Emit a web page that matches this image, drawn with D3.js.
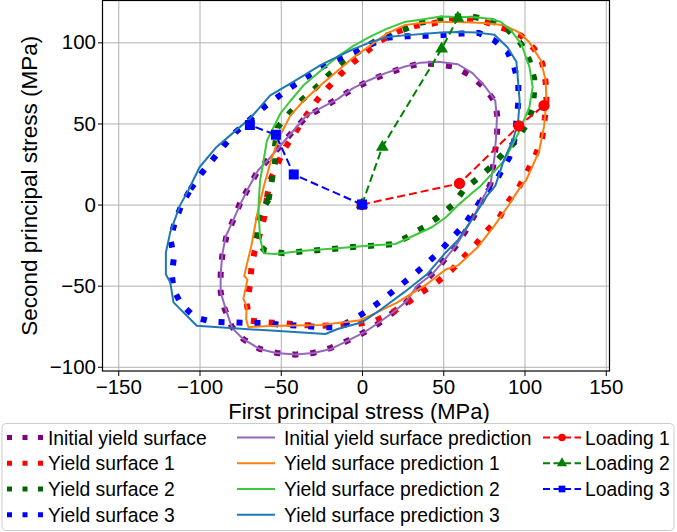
<!DOCTYPE html>
<html><head><meta charset="utf-8">
<script src="https://cdn.jsdelivr.net/npm/d3@7"></script>
<style>
body{margin:0;background:#fff}
svg{display:block}
text{font-family:"Liberation Sans",Arial,sans-serif;fill:#000}
</style>
</head><body>
<svg id="c" width="677" height="532"></svg>
<script>
// ---------------- data ----------------
const xTicks = [-150, -100, -50, 0, 50, 100, 150];
const yTicks = [-100, -50, 0, 50, 100];

const initialSurface = [[-75,1],[-79,-9],[-83.5,-20],[-86,-31.5],[-87,-43],[-87,-54],[-84.5,-64.5],[-80,-75.5],[-73,-83],[-63,-89],[-52.5,-91.5],[-41,-92.5],[-30,-91.5],[-19.5,-88.5],[-9,-84],[1,-79],[10,-73.5],[18.5,-67],[27,-60.5],[34.5,-51.5],[42,-44],[50,-35],[57.5,-26],[64,-16],[69,-7],[74,3],[79,12.5],[81.5,29],[83,41.5],[83.5,53],[82,63],[75.5,72],[67,79.5],[56.5,85],[46.5,86.5],[36,87],[26,84.5],[14.5,80.5],[4,76],[-6,71],[-15.5,65],[-25.5,59],[-34,54.5],[-44,43.5],[-56,29.5],[-64,21],[-70,10],[-75,1]];
const surface1 = [[-58.5,4.5],[-56.5,15],[-52,25],[-47,35.5],[-41,44.5],[-35,54],[-28,64],[-21,72],[-13.5,80],[-5,88],[3,94.5],[11.5,101],[21.5,106.5],[32,110],[43,111.5],[52.5,114],[69,114.5],[79,111.5],[87.5,108.5],[98,104],[106,96],[111,87],[113,75.5],[113.5,64],[112.5,53],[111,41.5],[107,31],[102,21],[97,11.5],[90.5,2.5],[84.5,-8],[77,-16],[70,-24.5],[62.5,-32.5],[55,-40.5],[46,-48],[37,-54],[28,-60.5],[18.5,-66.5],[8.5,-71.5],[-2,-73.5],[-14,-74.5],[-25.5,-74.7],[-36,-74.3],[-47,-73.3],[-58.5,-72.6],[-69,-71.5],[-71,-61],[-69,-50],[-68,-38.5],[-66,-28.5],[-62.5,-17],[-60,-7],[-58.5,4.5]];
const surface2 = [[-57.5,3],[-55.5,15],[-53.5,26],[-53.5,36.5],[-52,47.5],[-45,56],[-37,64.5],[-28.5,72],[-21,79.5],[-12,87],[-4,93],[5,99],[14.5,104],[26,108],[36,112],[48.5,114.5],[59,116],[70,115.5],[80.5,113],[89.5,108],[98,99],[103,89],[106,77.5],[106,70.5],[105,59],[101,49],[95,39.5],[86.5,31],[79,23],[71,16],[63,9.5],[55.5,-0.5],[46.5,-8],[38,-14],[28,-20],[18.5,-24.5],[7.5,-25.3],[-3.5,-26],[-14.5,-27],[-26,-28],[-37,-29],[-48,-30],[-59.5,-28.5],[-65.5,-23],[-64.5,-12],[-63,-5.5],[-57.5,3]];
const surface3 = [[-105.5,9.5],[-99,19],[-92,27.5],[-85.3,36],[-78,44.5],[-70,51.5],[-61,59.5],[-52.3,66],[-43,72.8],[-34,78.6],[-24.6,84.8],[-15,89.5],[-4,94],[6,99],[16.5,103],[27.5,103.7],[38.6,104],[49.5,104.5],[61,105.4],[72,105.8],[81.4,101.2],[89.6,94],[93.7,84.8],[96.2,74.5],[96.2,63],[95.4,55],[94.5,47],[93.7,39.5],[90.6,29],[85.5,20],[81.4,12.8],[75,5.6],[69,-3.7],[62.5,-13],[55,-21],[47.4,-29.4],[39,-37],[31,-44],[22,-51],[13.5,-58],[4,-65],[-5,-70.6],[-14.3,-75.5],[-25.6,-75.7],[-37,-74.7],[-48.3,-74.3],[-59,-73],[-71,-73],[-81,-72.6],[-92.5,-72.2],[-102.8,-69.5],[-111,-61.7],[-116,-52.5],[-117,-43.4],[-115.7,-32],[-118,-21],[-115,-10.5],[-111,0],[-105.5,9.5]];

const initialPrediction = [[-75,0],[-79,-9],[-84,-20],[-86,-31],[-87,-43],[-87,-54],[-84,-64],[-80,-76],[-73,-83],[-63,-89],[-53,-91.5],[-41,-92.5],[-30,-91.5],[-19,-89],[-9,-84],[1,-79],[10,-73],[19,-66.5],[27,-60],[34,-50],[43,-43],[50,-35],[58,-25],[69,-7],[74,3.5],[79,12],[81.5,29],[82.5,41.5],[83,53],[82,64],[76,72.5],[68,81],[59,86.5],[47,88],[36,87.5],[26,85],[14.5,81],[4,76.5],[-6,71.5],[-15,65],[-25.5,59.5],[-34,55],[-44,43.5],[-56.5,29],[-64,21],[-70,10],[-75,0]];
const prediction1 = [[-60.5,11],[-55.5,29],[-50,43.5],[-44,55],[-36,64],[-25.5,73.5],[-15,82.5],[-5,91],[5,98],[15.5,105.5],[26,110.5],[36,112],[48.5,112.5],[59,112.5],[75,112],[87.5,110.5],[96,106.5],[103,100],[110,89],[113,76.5],[113.5,64],[112,48],[109,33],[101,15],[98,11.7],[89.5,-1.5],[81.5,-13],[71,-26.5],[59,-37.5],[51.5,-40],[40,-49],[32,-54],[21.5,-60.5],[5,-68.5],[-2,-71.5],[-25.5,-74.3],[-56.5,-74.8],[-70,-75.5],[-71.3,-70.6],[-71,-63],[-73,-58],[-70.5,-46.3],[-72.5,-44],[-71,-37.5],[-68,-25],[-64.7,-7],[-60.5,11]];
const prediction2 = [[-63.5,2.5],[-62.7,15],[-60.6,27],[-58.5,39.5],[-54.5,47.5],[-50.3,56],[-44,64],[-36,73.5],[-25.5,82.5],[-15.3,91],[-5,98],[5,103.5],[15.5,108.5],[26,112.5],[36,114],[48.5,116],[69,115.5],[79,114.5],[85.5,112.5],[91.5,107.5],[98,99],[103,85],[105,72.5],[103,60],[96,43.5],[87.5,27],[73,11.5],[67,6.5],[59,-0.5],[51.5,-8],[43,-14],[30,-20],[20.5,-24.3],[5,-25.3],[-15,-27],[-36,-28.4],[-53.5,-30.5],[-60.5,-30],[-62.7,-21],[-63.7,-4],[-63.5,2.5]];
const prediction3 = [[-107,8.5],[-100,23],[-89.5,35.5],[-79,44.5],[-69,53],[-56.5,67.3],[-46,73.5],[-36,79.5],[-25.5,86],[-15.3,91],[-5,96],[5,100],[15.5,103.3],[26,104.3],[48.5,106],[59,106.4],[71,106],[81.5,104.7],[89.5,97],[95,88],[96,76.5],[97,64],[96,50],[92.7,39.5],[87.5,28],[82,11.5],[77,5.5],[69,-7],[59,-22],[51.5,-29.5],[40,-43],[26,-54],[10.5,-65.5],[0,-72.5],[-15,-76.7],[-22.5,-79.8],[-53.5,-77.8],[-79,-76.3],[-101.7,-74.7],[-116,-60.3],[-118,-48],[-120.7,-43],[-120.7,-29.5],[-118,-17],[-112,-0.5],[-107,8.5]];

const loading1 = [[0,0],[60,13],[96.5,48.5],[112,61]];
const loading2 = [[0,0],[12.5,35.5],[49,96],[59,115]];
const loading3 = [[0,0],[-42,18.5],[-53,43],[-69,49]];

const surfaceNames = ["Initial yield surface","Yield surface 1","Yield surface 2","Yield surface 3"];
const predictionNames = ["Initial yield surface prediction","Yield surface prediction 1","Yield surface prediction 2","Yield surface prediction 3"];
const loadingNames = ["Loading 1","Loading 2","Loading 3"];

// ---------------- chart ----------------
const surfaces = [initialSurface, surface1, surface2, surface3];
const predictions = [initialPrediction, prediction1, prediction2, prediction3];
const loadings = [loading1, loading2, loading3];
const surfaceColors = ["#800080","#ff0000","#006400","#0000ff"];
const predictionColors = ["#9467bd","#ff7f0e","#3cc83c","#1f77b4"];
const loadingColors = ["#ff0000","#008000","#0000ff"];
const loadingMarkers = [d3.symbolCircle, d3.symbolTriangle, d3.symbolSquare];

const svg = d3.select("#c");
const M = {l:102.5, r:609.5, t:0.5, b:371};
const x = d3.scaleLinear().domain([-159.7,152.3]).range([M.l,M.r]);
const y = d3.scaleLinear().domain([-102.6,125.8]).range([M.b,M.t]);
const fmt = d => d < 0 ? "\u2212" + Math.abs(d) : String(d);

// grid
const gx = svg.append("g").attr("transform",`translate(0,${M.b})`)
  .call(d3.axisBottom(x).tickValues(xTicks).tickSize(-(M.b-M.t)).tickFormat(""));
const gy = svg.append("g").attr("transform",`translate(${M.l},0)`)
  .call(d3.axisLeft(y).tickValues(yTicks).tickSize(-(M.r-M.l)).tickFormat(""));
[gx,gy].forEach(g=>{g.select(".domain").remove();g.selectAll("line").attr("stroke","#b0b0b0").attr("stroke-width",1);});

svg.append("clipPath").attr("id","clip").append("rect")
  .attr("x",M.l).attr("y",M.t).attr("width",M.r-M.l).attr("height",M.b-M.t);
const plot = svg.append("g").attr("clip-path","url(#clip)");
const line = d3.line().x(d=>x(d[0])).y(d=>y(d[1]));

surfaces.forEach((s,i)=>{
  plot.append("path").attr("d",line(s)).attr("fill","none")
    .attr("stroke",surfaceColors[i]).attr("stroke-width",6).attr("stroke-dasharray","6,12");
});
predictions.forEach((s,i)=>{
  plot.append("path").attr("d",line(s)).attr("fill","none")
    .attr("stroke",predictionColors[i]).attr("stroke-width",2).attr("stroke-linejoin","round");
});
loadings.forEach((s,i)=>{
  plot.append("path").attr("d",line(s)).attr("fill","none")
    .attr("stroke",loadingColors[i]).attr("stroke-width",2).attr("stroke-dasharray","8,4");
  const sz = i===1 ? 70 : 100;
  plot.selectAll(null).data(s).enter().append("path")
    .attr("d",d3.symbol().type(loadingMarkers[i]).size(sz))
    .attr("transform",d=>`translate(${x(d[0])},${y(d[1])})`)
    .attr("fill",loadingColors[i]);
});

// axes
const ax = svg.append("g").attr("transform",`translate(0,${M.b})`)
  .call(d3.axisBottom(x).tickValues(xTicks).tickSize(5).tickPadding(3.5).tickFormat(fmt));
const ay = svg.append("g").attr("transform",`translate(${M.l},0)`)
  .call(d3.axisLeft(y).tickValues(yTicks).tickSize(4.5).tickPadding(2).tickFormat(fmt));
[ax,ay].forEach(g=>{g.select(".domain").remove();
  g.selectAll("line").attr("stroke","#000").attr("stroke-width",1);
  g.selectAll("text").attr("font-size","20.5px").attr("font-family",'"Liberation Sans",Arial,sans-serif').attr("fill","#000");});
svg.append("rect").attr("x",M.l).attr("y",M.t).attr("width",M.r-M.l).attr("height",M.b-M.t)
  .attr("fill","none").attr("stroke","#000").attr("stroke-width",1.2);

svg.append("text").attr("x",359).attr("y",419).attr("text-anchor","middle")
  .attr("font-size","22px").text("First principal stress (MPa)");
svg.append("text").attr("transform",`translate(37,${(M.t+M.b)/2}) rotate(-90)`)
  .attr("text-anchor","middle").attr("font-size","22.5px").text("Second principal stress (MPa)");

// legend
const lg = svg.append("g");
lg.append("rect").attr("x",2).attr("y",423.5).attr("width",672).attr("height",107).attr("rx",4)
  .attr("fill","#fff").attr("fill-opacity",0.8).attr("stroke","#cccccc").attr("stroke-width",1);
const rowY = [437.5,463.2,489,514.7];
const fs = "19.3px";
surfaceNames.forEach((n,i)=>{
  lg.append("line").attr("x1",7).attr("x2",43).attr("y1",rowY[i]).attr("y2",rowY[i])
    .attr("stroke",surfaceColors[i]).attr("stroke-width",5).attr("stroke-dasharray","5,10.5");
  lg.append("text").attr("x",48).attr("y",rowY[i]+7).attr("font-size",fs).text(n);
});
predictionNames.forEach((n,i)=>{
  lg.append("line").attr("x1",237).attr("x2",275).attr("y1",rowY[i]).attr("y2",rowY[i])
    .attr("stroke",predictionColors[i]).attr("stroke-width",2);
  lg.append("text").attr("x",284).attr("y",rowY[i]+7).attr("font-size",fs).text(n);
});
loadingNames.forEach((n,i)=>{
  lg.append("line").attr("x1",543).attr("x2",581).attr("y1",rowY[i]).attr("y2",rowY[i])
    .attr("stroke",loadingColors[i]).attr("stroke-width",2).attr("stroke-dasharray","7,3.5");
  lg.append("path").attr("d",d3.symbol().type(loadingMarkers[i]).size(45))
    .attr("transform",`translate(562,${rowY[i]})`).attr("fill",loadingColors[i]);
  lg.append("text").attr("x",585).attr("y",rowY[i]+7).attr("font-size",fs).text(n);
});
</script>
</body></html>
